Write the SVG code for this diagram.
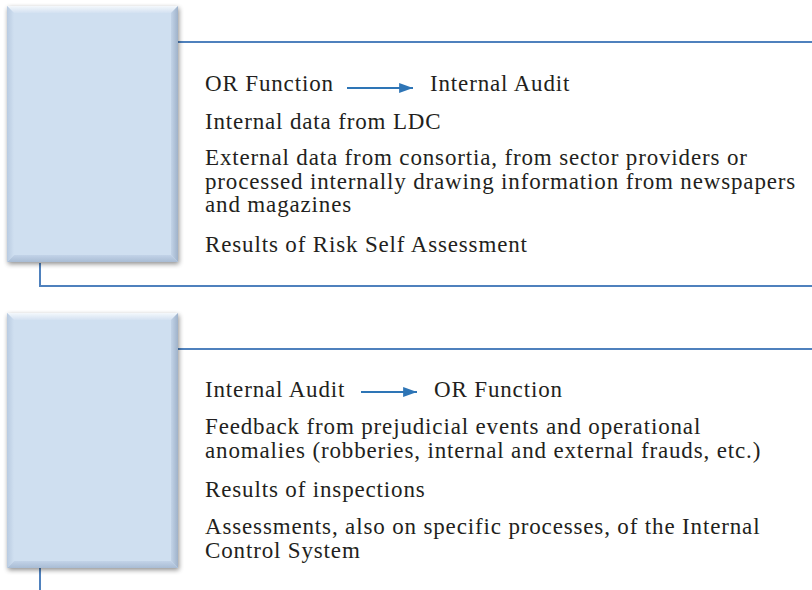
<svg xmlns="http://www.w3.org/2000/svg" width="812" height="590" viewBox="0 0 812 590">
<defs>
<filter id="sh" x="-10%" y="-10%" width="125%" height="125%">
<feGaussianBlur in="SourceAlpha" stdDeviation="2.5"/>
<feOffset dx="1" dy="2" result="b"/>
<feComponentTransfer><feFuncA type="linear" slope="0.45"/></feComponentTransfer>
<feMerge><feMergeNode/><feMergeNode in="SourceGraphic"/></feMerge>
</filter>
<linearGradient id="topb" x1="0" y1="0" x2="0" y2="1"><stop offset="0" stop-color="#f4f8fc"/><stop offset="1" stop-color="#d3e1f1"/></linearGradient>
<linearGradient id="botb" x1="0" y1="0" x2="0" y2="1"><stop offset="0" stop-color="#c2d3e8"/><stop offset="1" stop-color="#a9bcd4"/></linearGradient>
<linearGradient id="rb" x1="0" y1="0" x2="1" y2="0"><stop offset="0" stop-color="#c3d4e8"/><stop offset="1" stop-color="#9fb2ca"/></linearGradient>
<linearGradient id="lb" x1="0" y1="0" x2="1" y2="0"><stop offset="0" stop-color="#b9cbe1"/><stop offset="1" stop-color="#cfdff0"/></linearGradient>
<marker id="ah" viewBox="0 0 14 10" refX="14" refY="5" markerWidth="6.4" markerHeight="4.5" orient="auto" markerUnits="strokeWidth"><path d="M0,0 L14,5 L0,10 z" fill="#2e75b6"/></marker>
</defs>
<style>
.t{font-family:"Liberation Serif","Times New Roman",serif;font-size:23px;letter-spacing:0.85px;fill:#231f20}
.c{stroke:#4f81bd;stroke-width:2;fill:none}
.a{stroke:#2e75b6;stroke-width:2.2;fill:none}
.box{fill:#cfdff0}
</style>
<g id="connectors">
<path class="c" d="M178,42 H812"/>
<path class="c" d="M40,263 V286 H812"/>
<path class="c" d="M178,349 H812"/>
<path class="c" d="M40,568 V590"/>
</g>
<g id="box1" filter="url(#sh)">
<rect class="box" x="7" y="6" width="171" height="256"/>
<polygon points="7,6 178,6 171,13 14,13" fill="url(#topb)"/>
<polygon points="178,6 178,262 171,255 171,13" fill="url(#rb)"/>
<polygon points="7,262 178,262 171,255 14,255" fill="url(#botb)"/>
<polygon points="7,6 14,13 14,255 7,262" fill="url(#lb)"/>
</g>
<g id="box2" filter="url(#sh)">
<rect class="box" x="7" y="313" width="171" height="255"/>
<polygon points="7,313 178,313 171,320 14,320" fill="url(#topb)"/>
<polygon points="178,313 178,568 171,561 171,320" fill="url(#rb)"/>
<polygon points="7,568 178,568 171,561 14,561" fill="url(#botb)"/>
<polygon points="7,313 14,320 14,561 7,568" fill="url(#lb)"/>
</g>
<g id="text1">
<text class="t" x="205" y="91">OR Function</text>
<path class="a" d="M347,88 H413" marker-end="url(#ah)"/>
<text class="t" x="430" y="91">Internal Audit</text>
<text class="t" x="205" y="129">Internal data from LDC</text>
<text class="t" x="205" y="165">External data from consortia, from sector providers or</text>
<text class="t" x="205" y="189">processed internally drawing information from newspapers</text>
<text class="t" x="205" y="212">and magazines</text>
<text class="t" x="205" y="252">Results of Risk Self Assessment</text>
</g>
<g id="text2">
<text class="t" x="205" y="397">Internal Audit</text>
<path class="a" d="M361,392 H417" marker-end="url(#ah)"/>
<text class="t" x="434" y="397">OR Function</text>
<text class="t" x="205" y="434">Feedback from prejudicial events and operational</text>
<text class="t" x="205" y="458">anomalies (robberies, internal and external frauds, etc.)</text>
<text class="t" x="205" y="497">Results of inspections</text>
<text class="t" x="205" y="534">Assessments, also on specific processes, of the Internal</text>
<text class="t" x="205" y="558">Control System</text>
</g>
</svg>
